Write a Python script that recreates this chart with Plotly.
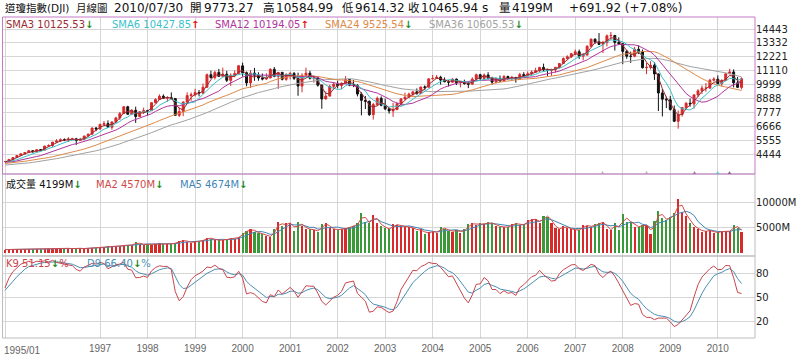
import plotly.graph_objects as go
import pandas as pd

# ---------------- data ----------------
# closes before the first shown month (1992/01 - 1994/12), used only to seed the moving averages
hist_close = [3223.39, 3267.67, 3235.47, 3359.12, 3396.88, 3318.52, 3393.78, 3257.35, 3271.66, 3226.28, 3305.16, 3301.11,
              3310.03, 3370.81, 3435.11, 3427.55, 3527.43, 3516.08, 3539.47, 3651.25, 3555.12, 3680.59, 3683.95, 3754.09,
              3978.36, 3832.02, 3635.96, 3681.69, 3758.37, 3624.96, 3764.50, 3913.42, 3843.19, 3908.12, 3739.23, 3834.44]
# 1994 highs / lows, used only to seed the KD indicator
hist_high = [3979, 3980, 3896, 3708, 3770, 3815, 3770, 3930, 3960, 3945, 3910, 3865]
hist_low = [3740, 3812, 3626, 3593, 3630, 3624, 3625, 3740, 3840, 3780, 3675, 3690]

months = [f"{y}/{m:02d}" for y in range(1995, 2011) for m in range(1, 13)][:187]

open_ = [3834, 3844, 4011, 4158, 4321, 4465, 4556, 4708, 4611, 4789, 4755, 5074,
         5117, 5395, 5486, 5587, 5569, 5643, 5655, 5529, 5616, 5882, 6029, 6522,
         6448, 6813, 6878, 6583, 7009, 7331, 7673, 8223, 7622, 7945, 7442, 7823,
         7908, 7907, 8546, 8800, 9063, 8900, 8952, 8883, 7539, 7843, 8592, 9117,
         9181, 9359, 9307, 9786, 10789, 10560, 10971, 10655, 10829, 10337, 10730, 10878,
         11497, 10941, 10128, 10922, 10734, 10522, 10448, 10522, 11215, 10651, 10971, 10414,
         10788, 10887, 10495, 9879, 10735, 10912, 10502, 10523, 9950, 8848, 9075, 9852,
         10022, 9920, 10106, 10404, 9946, 9925, 9243, 8737, 8664, 7592, 8397, 8896,
         8342, 8054, 7891, 7992, 8480, 8850, 8985, 9234, 9416, 9275, 9801, 9782,
         10454, 10488, 10584, 10358, 10226, 10188, 10435, 10140, 10174, 10080, 10027, 10428,
         10783, 10490, 10766, 10504, 10193, 10467, 10275, 10641, 10482, 10569, 10440, 10806,
         10718, 10865, 10993, 11109, 11367, 11168, 11150, 11186, 11381, 11679, 12081, 12222,
         12463, 12622, 12269, 12354, 13063, 13628, 13409, 13212, 13358, 13896, 13930, 13372,
         13265, 12650, 12266, 12263, 12820, 12638, 11350, 11378, 11544, 10851, 9325, 8829,
         8776, 8001, 7063, 7609, 8168, 8500, 8447, 9172, 9496, 9712, 9713, 10345,
         10428, 10067, 10325, 10857, 11009, 10137, 9773.27]

high = [3890, 4017, 4170, 4336, 4472, 4589, 4727, 4726, 4802, 4822, 5105, 5216,
        5395, 5630, 5690, 5690, 5790, 5740, 5730, 5740, 5900, 6090, 6560, 6600,
        6860, 7080, 7130, 7040, 7420, 7800, 8260, 8300, 8020, 8230, 7870, 8150,
        7980, 8560, 8900, 9210, 9210, 9070, 9370, 8910, 8170, 8660, 9380, 9370,
        9660, 9560, 10080, 10880, 11110, 11100, 11250, 11350, 11100, 10900, 11130, 11570,
        11750, 11040, 11150, 11330, 10980, 10880, 10900, 11310, 11400, 10990, 11010, 10900,
        11020, 11000, 10950, 10900, 11350, 11100, 10700, 10660, 10000, 9440, 9980, 10190,
        10300, 10170, 10670, 10430, 10380, 10030, 9380, 9080, 8720, 8540, 9040, 9050,
        8870, 8160, 8530, 8520, 8900, 9350, 9350, 9460, 9690, 9840, 9930, 10460,
        10760, 10760, 10700, 10570, 10350, 10500, 10480, 10210, 10390, 10240, 10580, 10870,
        10860, 10880, 10990, 10620, 10560, 10720, 10750, 10710, 10700, 10610, 10940, 10990,
        11050, 11140, 11340, 11420, 11670, 11260, 11270, 11400, 11720, 12170, 12340, 12530,
        12800, 12800, 12530, 13140, 13690, 13700, 14120, 13500, 14000, 14200, 13960, 13780,
        13340, 12770, 12630, 13010, 13140, 12800, 11760, 11870, 11790, 10880, 9650, 9030,
        9090, 8320, 7930, 8190, 8600, 8880, 9230, 9630, 9920, 10120, 10460, 10580,
        10730, 10420, 10880, 11260, 11210, 10600, 10584.99]

low = [3820, 3832, 3987, 4146, 4314, 4423, 4552, 4580, 4609, 4705, 4749, 5044,
       5000, 5360, 5420, 5470, 5420, 5590, 5170, 5500, 5570, 5880, 5990, 6270,
       6400, 6700, 6580, 6390, 6950, 7160, 7660, 7600, 7620, 6930, 7400, 7650,
       7530, 7900, 8500, 8820, 8850, 8620, 8800, 7500, 7400, 7470, 8550, 8700,
       9050, 9050, 9270, 9730, 10470, 10400, 10620, 10600, 10200, 9890, 10580, 10800,
       10640, 9860, 9730, 10300, 10300, 10330, 10370, 10520, 10580, 9650, 10330, 10300,
       10400, 10370, 9100, 9380, 10620, 10400, 10150, 9830, 8060, 8800, 9060, 9650,
       9700, 9640, 10090, 9870, 9790, 9050, 7530, 8040, 7480, 7200, 8280, 8260,
       7950, 7670, 7420, 7960, 8240, 8770, 8940, 9020, 9190, 9260, 9580, 9780,
       10410, 10440, 10000, 10180, 9850, 10140, 9960, 9780, 9990, 9710, 10020, 10390,
       10370, 10360, 10400, 10000, 10090, 10240, 10230, 10400, 10290, 10150, 10390, 10640,
       10650, 10720, 10950, 11000, 11050, 10690, 10700, 10950, 11270, 11640, 11990, 12120,
       12340, 12050, 11940, 12340, 12980, 13240, 13170, 12520, 13050, 13590, 12720, 13160,
       11630, 12060, 11730, 12180, 12440, 11280, 10830, 11210, 10370, 7880, 7450, 8120,
       7910, 7000, 6470, 7430, 8040, 8220, 8080, 9010, 9250, 9430, 9680, 10240,
       10030, 9840, 10300, 10860, 9770, 9740, 9614.32]

close = [3843.86, 4011.05, 4157.69, 4321.27, 4465.14, 4556.10, 4708.47, 4610.56, 4789.08, 4755.48, 5074.49, 5117.12,
         5395.30, 5485.62, 5587.14, 5569.08, 5643.18, 5654.63, 5528.91, 5616.21, 5882.17, 6029.38, 6521.70, 6448.27,
         6813.09, 6877.74, 6583.48, 7008.99, 7331.04, 7672.79, 8222.61, 7622.42, 7945.26, 7442.08, 7823.13, 7908.25,
         7906.50, 8545.72, 8799.81, 9063.37, 8899.95, 8952.02, 8883.29, 7539.07, 7842.62, 8592.10, 9116.55, 9181.43,
         9358.83, 9306.58, 9786.16, 10789.04, 10559.74, 10970.80, 10655.15, 10829.28, 10336.95, 10729.86, 10877.81, 11497.12,
         10940.53, 10128.31, 10921.92, 10733.91, 10522.33, 10447.89, 10521.98, 11215.10, 10650.92, 10971.14, 10414.49, 10787.99,
         10887.36, 10495.28, 9878.78, 10734.97, 10911.94, 10502.40, 10522.81, 9949.75, 8847.56, 9075.14, 9851.56, 10021.50,
         9920.00, 10106.13, 10403.94, 9946.22, 9925.25, 9243.26, 8736.59, 8663.50, 7591.93, 8397.03, 8896.09, 8341.63,
         8053.81, 7891.08, 7992.13, 8480.09, 8850.26, 8985.44, 9233.80, 9415.82, 9275.06, 9801.12, 9782.46, 10453.92,
         10488.07, 10583.92, 10357.70, 10225.57, 10188.45, 10435.48, 10139.71, 10173.92, 10080.27, 10027.47, 10428.02, 10783.01,
         10489.94, 10766.23, 10503.76, 10192.51, 10467.48, 10274.97, 10640.91, 10481.60, 10568.70, 10440.07, 10805.87, 10717.50,
         10864.86, 10993.41, 11109.32, 11367.14, 11168.31, 11150.22, 11185.68, 11381.15, 11679.07, 12080.73, 12221.93, 12463.15,
         12621.69, 12268.63, 12354.35, 13062.91, 13627.64, 13408.62, 13211.99, 13357.74, 13895.63, 13930.01, 13371.72, 13264.82,
         12650.36, 12266.39, 12262.89, 12820.13, 12638.32, 11350.01, 11378.02, 11543.55, 10850.66, 9325.01, 8829.04, 8776.39,
         8000.86, 7062.93, 7608.92, 8168.12, 8500.33, 8447.00, 9171.61, 9496.28, 9712.28, 9712.73, 10344.84, 10428.05,
         10067.33, 10325.26, 10856.63, 11008.61, 10136.63, 9774.02, 10465.94]

volume = [760, 800, 820, 800, 850, 870, 880, 850, 870, 900, 890, 870,
          950, 920, 1000, 1050, 960, 930, 1100, 900, 980, 1050, 1070, 1100,
          1300, 1350, 1400, 1450, 1400, 1500, 1650, 1600, 1700, 2150, 1850, 1750,
          1800, 1750, 1850, 1950, 1800, 1850, 1900, 2100, 2450, 2550, 2300, 2100,
          2350, 2400, 2650, 3050, 2900, 2650, 2550, 2650, 2800, 3000, 2900, 3300,
          4060, 4450, 4770, 4260, 3930, 3800, 3410, 3280, 4710, 6200, 5360, 5880,
          6010, 4450, 6070, 5420, 4770, 4710, 4580, 4260, 5680, 5880, 4900, 4710,
          4580, 4770, 4900, 5230, 5360, 5880, 7900, 6200, 5880, 7510, 6010, 5420,
          4900, 4710, 5680, 5550, 5360, 5230, 5100, 4900, 4450, 4710, 3740, 4260,
          4260, 4060, 5100, 4770, 4450, 4260, 4580, 4060, 4710, 5680, 5880, 5550,
          5880, 5680, 6070, 5880, 5360, 5230, 5100, 5230, 5750, 5880, 5550, 5680,
          6530, 6660, 6660, 5880, 7380, 7190, 5880, 4900, 4710, 5420, 4900, 4710,
          4580, 4580, 5550, 5360, 5230, 5680, 5880, 6200, 4710, 4580, 6010, 4580,
          7640, 6200, 6200, 5230, 5230, 5550, 5550, 3740, 6400, 8350, 6850, 6530,
          7190, 7830, 10620, 8160, 7300, 5880, 5100, 4710, 4260, 4390, 4580, 3930,
          4260, 4260, 4300, 4400, 5530, 4941, 4199]

event_months = ["2007/08", "2008/07", "2009/07", "2010/01", "2010/04"]
event_colors = ["#c49ab8", "#c49ab8", "#a86aa0", "#55c4c8", "#8a5a8a"]

price_ticks = [14443, 13332, 12221, 11110, 9999, 8888, 7777, 6666, 5555, 4444]
vol_ticks = [5000, 10000]
vol_tick_text = ["5000M", "10000M"]
kd_ticks = [20, 50, 80]
year_labels = ["1995/01", "1997", "1998", "1999", "2000", "2001", "2002", "2003",
               "2004", "2005", "2006", "2007", "2008", "2009", "2010"]
year_months = ["1995/01", "1997/01", "1998/01", "1999/01", "2000/01", "2001/01", "2002/01", "2003/01",
               "2004/01", "2005/01", "2006/01", "2007/01", "2008/01", "2009/01", "2010/01"]

title_parts = [("道瓊指數(DJI)", 3, 10.5), ("月線圖", 74, 10.5), ("2010/07/30", 112, 12),
               ("開", 188, 11.5), ("9773.27", 202, 12), ("高", 261, 11.5), ("10584.99", 274, 12),
               ("低", 340, 11.5), ("9614.32", 353, 12), ("收", 406, 11.5), ("10465.94 s", 419, 12),
               ("量", 497, 11.5), ("4199M", 510, 12), ("+691.92 (+7.08%)", 567, 12)]

# ---------------- derived series ----------------
n = len(close)
x = list(range(n))
all_close = pd.Series(hist_close + close)
sma = {p: all_close.rolling(p).mean().tolist()[36:] for p in (3, 6, 12, 24, 36)}

kd_high = hist_high + high
kd_low = hist_low + low
kd_close = hist_close[24:] + close
K, D = 50.0, 50.0
Ks, Ds = [], []
for t in range(8, len(kd_close)):
    hh = max(kd_high[t - 8:t + 1])
    ll = min(kd_low[t - 8:t + 1])
    rsv = (kd_close[t] - ll) / (hh - ll) * 100
    K = K * 2 / 3 + rsv / 3
    D = D * 2 / 3 + K / 3
    if t >= 12:
        Ks.append(K)
        Ds.append(D)

vs = pd.Series(volume)
ma2 = vs.rolling(2, min_periods=1).mean().tolist()
ma5 = vs.rolling(5, min_periods=1).mean().tolist()

RED = "#d8292b"
GREEN = "#3a9a3a"
vol_colors = [RED if c >= o else GREEN for o, c in zip(open_, close)]

sma_colors = {3: "#9a2b30", 6: "#3bbfca", 12: "#b0359d", 24: "#de8a48", 36: "#a2a2a2"}

# ---------------- figure ----------------
W, H = 800, 358
def px(v): return v / W
def py(v): return 1 - v / H

fig = go.Figure()

fig.add_trace(go.Candlestick(
    x=x, open=open_, high=high, low=low, close=close,
    xaxis="x3", yaxis="y3",
    increasing=dict(line=dict(color=RED, width=1), fillcolor=RED),
    decreasing=dict(line=dict(color="#111111", width=1), fillcolor="#111111"),
    whiskerwidth=0, showlegend=False, hoverinfo="skip"))

for p in (36, 24, 12, 6, 3):
    fig.add_trace(go.Scatter(x=x, y=sma[p], mode="lines", xaxis="x3", yaxis="y3",
                             line=dict(color=sma_colors[p], width=1), showlegend=False, hoverinfo="skip"))

ev_x = [months.index(m) for m in event_months]

fig.add_trace(go.Bar(x=x, y=volume, marker=dict(color=vol_colors, line=dict(width=0)),
                     width=0.55, xaxis="x2", yaxis="y2", showlegend=False, hoverinfo="skip"))
fig.add_trace(go.Scatter(x=x, y=ma5, mode="lines", xaxis="x2", yaxis="y2",
                         line=dict(color="#3f86b8", width=1), showlegend=False, hoverinfo="skip"))
fig.add_trace(go.Scatter(x=x, y=ma2, mode="lines", xaxis="x2", yaxis="y2",
                         line=dict(color="#d24a4a", width=1), showlegend=False, hoverinfo="skip"))

fig.add_trace(go.Scatter(x=x, y=Ds, mode="lines", xaxis="x", yaxis="y",
                         line=dict(color="#4a8fb4", width=1), showlegend=False, hoverinfo="skip"))
fig.add_trace(go.Scatter(x=x, y=Ks, mode="lines", xaxis="x", yaxis="y",
                         line=dict(color="#c8464e", width=1), showlegend=False, hoverinfo="skip"))

xr = [(3 - 5) / 3.96, (755 - 5) / 3.96]
tickvals = [months.index(m) for m in year_months]
ticktext = [""] + year_labels[1:]
GRID = "#d6d6d6"
xcommon = dict(range=xr, tickvals=tickvals, showgrid=True, gridcolor=GRID, gridwidth=1,
               zeroline=False, showline=False, ticks="", domain=[px(3), px(755)])
ycommon = dict(side="right", showgrid=True, gridcolor=GRID, gridwidth=1, zeroline=False,
               showline=False, ticks="", tickfont=dict(family="DejaVu Sans", size=10, color="#222222"))

fig.update_layout(
    width=W, height=H, autosize=False,
    margin=dict(l=0, r=0, t=0, b=0),
    paper_bgcolor="#ffffff", plot_bgcolor="#ffffff",
    bargap=0,
    xaxis=dict(**xcommon, anchor="y", ticktext=ticktext, showticklabels=True,
               tickfont=dict(family="Liberation Sans", size=10, color="#666666"), ticklabelstandoff=3),
    xaxis2=dict(**xcommon, anchor="y2", matches="x", showticklabels=False),
    xaxis3=dict(**xcommon, anchor="y3", matches="x", showticklabels=False, rangeslider=dict(visible=False)),
    yaxis=dict(**ycommon, anchor="x", domain=[py(338), py(256)], range=[-1.25, 101.25],
               tickvals=kd_ticks, ticktext=[str(v) for v in kd_ticks]),
    yaxis2=dict(**ycommon, anchor="x2", domain=[py(256), py(174)], range=[-490, 15500],
                tickvals=vol_ticks, ticktext=vol_tick_text),
    yaxis3=dict(**ycommon, anchor="x3", domain=[py(174), py(17)], range=[2844, 15403],
                tickvals=price_ticks, ticktext=[str(v) for v in price_ticks]),
)

ann = []
# title row
for txt, xl, sz in title_parts:
    ann.append(dict(text=txt, x=px(xl), y=py(8.5), xref="paper", yref="paper", xanchor="left", yanchor="middle",
                    showarrow=False, font=dict(family="DejaVu Sans, Noto Sans CJK TC", size=sz, color="#111111")))

DN = "<span style='color:#1c8a1c'><b>↓</b></span>"
UP = "<span style='color:#e01818'><b>↑</b></span>"
legend_items = [
    (4, 24, f"SMA3 10125.53{DN}", sma_colors[3]),
    (110, 24, f"SMA6 10427.85{UP}", sma_colors[6]),
    (213, 24, f"SMA12 10194.05{UP}", sma_colors[12]),
    (323, 24, f"SMA24 9525.54{DN}", sma_colors[24]),
    (427, 24, f"SMA36 10605.53{DN}", sma_colors[36]),
    (4, 184, f"成交量 4199M{DN}", "#111111"),
    (94, 184, f"MA2 4570M{DN}", "#d24a4a"),
    (178, 184, f"MA5 4674M{DN}", "#3f86b8"),
    (4, 263, f"K9 51.15{DN}%", "#c8464e"),
    (85, 263, f"D9 66.40{DN}%", "#4a8fb4"),
]
for xl, yc, txt, col in legend_items:
    ann.append(dict(text=txt, x=px(xl), y=py(yc), xref="paper", yref="paper", xanchor="left", yanchor="middle",
                    showarrow=False, font=dict(family="DejaVu Sans, Noto Sans CJK TC", size=10, color=col)))

# first x label, left aligned at its tick
ann.append(dict(text=year_labels[0], x=tickvals[0], y=py(350), xref="x", yref="paper", xanchor="left",
                yanchor="middle", xshift=-3, showarrow=False,
                font=dict(family="Liberation Sans", size=10, color="#666666")))

# event markers at the bottom of the price panel
for xv, col in zip(ev_x, event_colors):
    ann.append(dict(text="▲", x=xv, y=py(172), xref="x3", yref="paper", xanchor="center", yanchor="middle",
                    showarrow=False, font=dict(size=5, color=col)))

fig.update_layout(annotations=ann)

# panel borders
shapes = [
    dict(type="rect", xref="paper", yref="paper", x0=px(2.5), x1=px(755), y0=py(256), y1=py(174),
         line=dict(color="#bdbdbd", width=1)),
    dict(type="rect", xref="paper", yref="paper", x0=px(2.5), x1=px(755), y0=py(338), y1=py(256),
         line=dict(color="#bdbdbd", width=1)),
    dict(type="rect", xref="paper", yref="paper", x0=px(2.5), x1=px(755), y0=py(174), y1=py(17),
         line=dict(color="#c57ac5", width=1)),
]
fig.update_layout(shapes=shapes)

fig.write_html("out.html", config={"displayModeBar": False},
               post_script="document.body.style.margin='0';document.body.style.padding='0';")
